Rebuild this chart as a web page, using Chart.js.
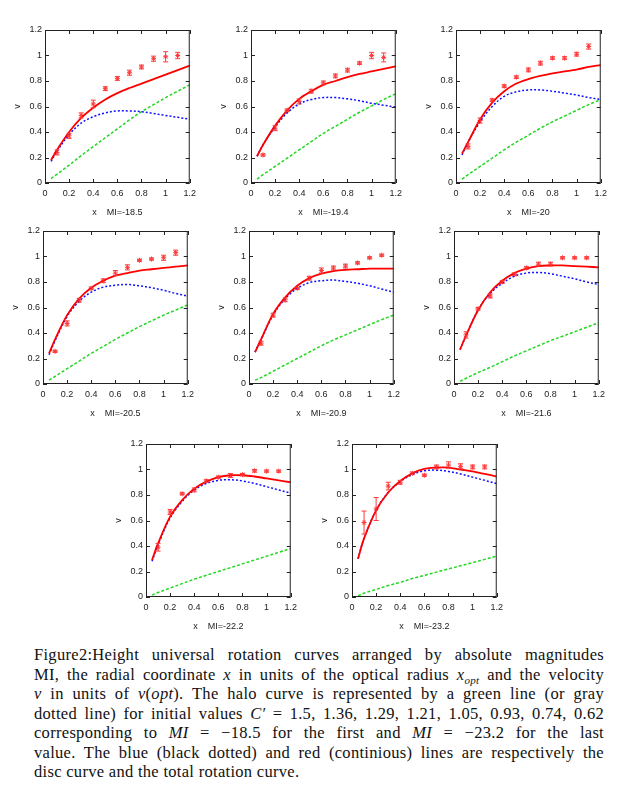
<!DOCTYPE html>
<html>
<head>
<meta charset="utf-8">
<style>
  body { margin: 0; background: #fff; width: 634px; height: 792px; position: relative; overflow: hidden; }
  canvas { position: absolute; }
  #cap { position: absolute; left: 34px; width: 570px; top: 645px; font: 16.5px "Liberation Serif", serif; letter-spacing: 0.3px; line-height: 19.5px; color: #111; }
  #cap div { text-align: justify; text-align-last: justify; }
  #cap div.last { text-align-last: left; }
  #cap sub { font-size: 11px; line-height: 0; }
</style>
</head>
<body>
<div id="panels"></div>
<div id="cap">
  <div>Figure2:Height universal rotation curves arranged by absolute magnitudes</div>
  <div>MI, the radial coordinate <i>x</i> in units of the optical radius <i>x<sub>opt</sub></i> and the velocity</div>
  <div><i>v</i> in units of <i>v</i>(<i>opt</i>). The halo curve is represented by a green line (or gray</div>
  <div>dotted line) for initial values <i>C′</i> = 1.5, 1.36, 1.29, 1.21, 1.05, 0.93, 0.74, 0.62</div>
  <div>corresponding to <i>MI</i> = −18.5 for the first and <i>MI</i> = −23.2 for the last</div>
  <div>value. The blue (black dotted) and red (continious) lines are respectively the</div>
  <div class="last">disc curve and the total rotation curve.</div>
</div>
<script src="https://cdn.jsdelivr.net/npm/chart.js@4.4.0/dist/chart.umd.min.js"></script>
<script>
// x grid of the model curves, and radii of the observed points
const xCurve = [0.05, 0.1, 0.2, 0.3, 0.4, 0.5, 0.6, 0.7, 0.8, 0.9, 1.0, 1.1, 1.2];
const xObs = [0.1, 0.2, 0.3, 0.4, 0.5, 0.6, 0.7, 0.8, 0.9, 1.0, 1.1];
const panelLabels = ['MI=-18.5', 'MI=-19.4', 'MI=-20', 'MI=-20.5', 'MI=-20.9', 'MI=-21.6', 'MI=-22.2', 'MI=-23.2'];
const yTicks = [0, 0.2, 0.4, 0.6, 0.8, 1, 1.2];

// MI=-18.5
const total1 = [0.18, 0.26, 0.40, 0.51, 0.59, 0.655, 0.705, 0.745, 0.78, 0.815, 0.85, 0.885, 0.92];
const disc1 = [0.17, 0.25, 0.38, 0.47, 0.52, 0.55, 0.565, 0.565, 0.56, 0.545, 0.53, 0.515, 0.50];
const halo1 = [0.035, 0.07, 0.14, 0.215, 0.285, 0.355, 0.425, 0.495, 0.56, 0.615, 0.67, 0.72, 0.77];
const obs1 = [0.24, 0.37, 0.53, 0.62, 0.74, 0.82, 0.865, 0.91, 0.975, 0.99, 1.0];
const err1 = [0.02, 0.02, 0.02, 0.03, 0.015, 0.015, 0.02, 0.015, 0.02, 0.04, 0.025];
// MI=-19.4
const total2 = [0.21, 0.30, 0.45, 0.57, 0.66, 0.72, 0.77, 0.80, 0.83, 0.855, 0.875, 0.895, 0.915];
const disc2 = [0.21, 0.30, 0.44, 0.55, 0.62, 0.655, 0.67, 0.67, 0.66, 0.645, 0.625, 0.61, 0.595];
const halo2 = [0.03, 0.065, 0.13, 0.195, 0.26, 0.325, 0.39, 0.445, 0.50, 0.555, 0.605, 0.655, 0.70];
const obs2 = [0.22, 0.43, 0.57, 0.64, 0.72, 0.785, 0.84, 0.885, 0.94, 1.0, 0.985];
const err2 = [0.008, 0.02, 0.01, 0.02, 0.015, 0.015, 0.015, 0.015, 0.01, 0.025, 0.035];
// MI=-20
const total3 = [0.23, 0.32, 0.50, 0.63, 0.72, 0.78, 0.815, 0.84, 0.86, 0.875, 0.89, 0.91, 0.925];
const disc3 = [0.22, 0.32, 0.48, 0.60, 0.68, 0.715, 0.73, 0.73, 0.72, 0.705, 0.69, 0.67, 0.655];
const halo3 = [0.03, 0.065, 0.13, 0.195, 0.26, 0.32, 0.375, 0.43, 0.48, 0.525, 0.57, 0.615, 0.655];
const obs3 = [0.287, 0.49, 0.65, 0.76, 0.83, 0.887, 0.94, 0.98, 0.98, 1.01, 1.07];
const err3 = [0.02, 0.02, 0.01, 0.01, 0.01, 0.015, 0.015, 0.01, 0.01, 0.015, 0.02];
// MI=-20.5
const total4 = [0.24, 0.35, 0.54, 0.67, 0.755, 0.81, 0.85, 0.87, 0.89, 0.90, 0.91, 0.92, 0.93];
const disc4 = [0.23, 0.34, 0.53, 0.65, 0.72, 0.76, 0.775, 0.78, 0.77, 0.755, 0.735, 0.71, 0.69];
const halo4 = [0.03, 0.06, 0.12, 0.18, 0.24, 0.295, 0.35, 0.40, 0.45, 0.495, 0.54, 0.58, 0.62];
const obs4 = [0.256, 0.475, 0.657, 0.75, 0.81, 0.87, 0.915, 0.97, 0.98, 0.99, 1.03];
const err4 = [0.008, 0.02, 0.015, 0.01, 0.015, 0.02, 0.02, 0.008, 0.008, 0.02, 0.02];
// MI=-20.9
const total5 = [0.25, 0.35, 0.55, 0.68, 0.77, 0.83, 0.865, 0.885, 0.895, 0.90, 0.905, 0.905, 0.905];
const disc5 = [0.25, 0.35, 0.54, 0.67, 0.75, 0.795, 0.81, 0.815, 0.805, 0.79, 0.77, 0.745, 0.72];
const halo5 = [0.03, 0.05, 0.10, 0.15, 0.20, 0.25, 0.30, 0.345, 0.385, 0.425, 0.465, 0.505, 0.54];
const obs5 = [0.32, 0.54, 0.66, 0.75, 0.83, 0.89, 0.91, 0.925, 0.95, 0.99, 1.01];
const err5 = [0.015, 0.015, 0.015, 0.008, 0.015, 0.02, 0.015, 0.015, 0.008, 0.008, 0.008];
// MI=-21.6
const total6 = [0.27, 0.38, 0.58, 0.72, 0.81, 0.87, 0.905, 0.925, 0.93, 0.93, 0.925, 0.92, 0.915];
const disc6 = [0.27, 0.38, 0.58, 0.71, 0.79, 0.845, 0.87, 0.875, 0.865, 0.845, 0.825, 0.80, 0.78];
const halo6 = [0.02, 0.045, 0.09, 0.13, 0.175, 0.22, 0.26, 0.30, 0.34, 0.375, 0.41, 0.445, 0.48];
const obs6 = [0.385, 0.59, 0.69, 0.80, 0.86, 0.91, 0.94, 0.94, 0.99, 0.99, 0.99];
const err6 = [0.025, 0.01, 0.015, 0.01, 0.01, 0.01, 0.015, 0.015, 0.008, 0.008, 0.008];
// MI=-22.2
const total7 = [0.29, 0.42, 0.63, 0.76, 0.85, 0.905, 0.94, 0.955, 0.955, 0.945, 0.93, 0.915, 0.90];
const disc7 = [0.28, 0.41, 0.62, 0.75, 0.84, 0.89, 0.915, 0.92, 0.91, 0.89, 0.865, 0.84, 0.815];
const halo7 = [0.015, 0.035, 0.07, 0.105, 0.14, 0.17, 0.20, 0.23, 0.26, 0.29, 0.32, 0.35, 0.38];
const obs7 = [0.39, 0.667, 0.81, 0.84, 0.91, 0.94, 0.953, 0.96, 0.99, 0.987, 0.987];
const err7 = [0.03, 0.02, 0.008, 0.015, 0.01, 0.008, 0.015, 0.008, 0.01, 0.008, 0.008];
// MI=-23.2
const total8 = [0.30, 0.46, 0.68, 0.82, 0.91, 0.97, 1.005, 1.015, 1.015, 1.0, 0.985, 0.965, 0.945];
const disc8 = [0.30, 0.46, 0.68, 0.82, 0.905, 0.96, 0.99, 0.995, 0.985, 0.965, 0.94, 0.915, 0.89];
const halo8 = [0.01, 0.03, 0.06, 0.09, 0.115, 0.145, 0.17, 0.195, 0.22, 0.245, 0.27, 0.295, 0.32];
const obs8 = [0.584, 0.69, 0.87, 0.90, 0.97, 0.955, 1.02, 1.035, 1.025, 1.02, 1.02];
const err8 = [0.09, 0.09, 0.03, 0.015, 0.01, 0.008, 0.015, 0.025, 0.02, 0.015, 0.015];

const totals = [total1, total2, total3, total4, total5, total6, total7, total8];
const discs = [disc1, disc2, disc3, disc4, disc5, disc6, disc7, disc8];
const halos = [halo1, halo2, halo3, halo4, halo5, halo6, halo7, halo8];
const obsList = [obs1, obs2, obs3, obs4, obs5, obs6, obs7, obs8];
const errList = [err1, err2, err3, err4, err5, err6, err7, err8];

// canvas top-left of each panel on the page
const spots = [[5, 20], [211, 20], [416, 20], [3, 221], [209, 221], [414, 221], [106, 434], [312, 434]];

Chart.defaults.font.family = '"Liberation Sans", Arial, sans-serif';
Chart.defaults.font.size = 9;
Chart.defaults.color = '#222';

// gnuplot look: frame, inward ticks on all four sides, error bars
const gnuFrame = {
  id: 'gnuFrame',
  afterDatasetsDraw(chart) {
    const { ctx, chartArea: a, scales: { x, y } } = chart;
    ctx.save();
    // error bars
    chart.data.datasets.forEach(ds => {
      if (!ds.errors) return;
      ctx.strokeStyle = ds.borderColor;
      ctx.lineWidth = 1;
      ds.data.forEach((p, i) => {
        const px = x.getPixelForValue(p.x);
        const y1 = y.getPixelForValue(p.y - ds.errors[i]);
        const y2 = y.getPixelForValue(p.y + ds.errors[i]);
        ctx.beginPath();
        ctx.moveTo(px, y1); ctx.lineTo(px, y2);
        ctx.moveTo(px - 2.5, y1); ctx.lineTo(px + 2.5, y1);
        ctx.moveTo(px - 2.5, y2); ctx.lineTo(px + 2.5, y2);
        ctx.stroke();
      });
    });
    ctx.strokeStyle = '#222';
    ctx.lineWidth = 1;
    ctx.strokeRect(a.left + 0.5, a.top + 0.5, a.right - a.left - 1, a.bottom - a.top - 1);
    ctx.beginPath();
    x.ticks.forEach(t => {
      const px = Math.round(x.getPixelForValue(t.value)) + 0.5;
      ctx.moveTo(px, a.bottom); ctx.lineTo(px, a.bottom - 4);
      ctx.moveTo(px, a.top); ctx.lineTo(px, a.top + 4);
    });
    y.ticks.forEach(t => {
      const py = Math.round(y.getPixelForValue(t.value)) + 0.5;
      ctx.moveTo(a.left, py); ctx.lineTo(a.left + 4, py);
      ctx.moveTo(a.right, py); ctx.lineTo(a.right - 4, py);
    });
    ctx.stroke();
    ctx.restore();
  }
};

function pts(xs, ys) {
  return xs.map((v, i) => ({ x: v, y: ys[i] }));
}

function makePanel(i) {
  const cv = document.createElement('canvas');
  cv.width = 196;
  cv.height = 200;
  cv.style.left = spots[i][0] + 'px';
  cv.style.top = spots[i][1] + 'px';
  document.getElementById('panels').appendChild(cv);

  new Chart(cv, {
    type: 'line',
    data: {
      datasets: [
        {
          label: 'total',
          data: pts(xCurve, totals[i]),
          borderColor: '#ff0000',
          borderWidth: 1.8,
          pointRadius: 0,
          tension: 0.35
        },
        {
          label: 'disc',
          data: pts(xCurve, discs[i]),
          borderColor: '#1010ff',
          borderWidth: 1.5,
          borderDash: [2, 2],
          pointRadius: 0,
          tension: 0.35
        },
        {
          label: 'halo',
          data: pts(xCurve, halos[i]),
          borderColor: '#20d820',
          borderWidth: 1.5,
          borderDash: [3, 2],
          pointRadius: 0,
          tension: 0.35
        },
        {
          label: 'data',
          data: pts(xObs, obsList[i]),
          errors: errList[i],
          showLine: false,
          borderColor: '#ff3a3a',
          backgroundColor: '#ff3a3a',
          pointStyle: 'star',
          pointRadius: 2.5,
          borderWidth: 1
        }
      ]
    },
    options: {
      responsive: false,
      animation: false,
      devicePixelRatio: 1,
      layout: { padding: { left: 0, top: 10, right: 4, bottom: 0 } },
      plugins: { legend: { display: false }, tooltip: { enabled: false } },
      scales: {
        x: {
          type: 'linear',
          min: 0,
          max: 1.2,
          grid: { display: false, drawTicks: false },
          border: { display: false },
          ticks: { stepSize: 0.2, padding: 5, maxRotation: 0, callback: v => String(Math.round(v * 10) / 10) },
          title: { display: true, text: 'x    ' + panelLabels[i], padding: { top: 0, bottom: 2 } },
          afterFit(s) { s.height = 37; }
        },
        y: {
          min: 0,
          max: 1.2,
          grid: { display: false, drawTicks: false },
          border: { display: false },
          afterBuildTicks(s) { s.ticks = yTicks.map(v => ({ value: v })); },
          ticks: { padding: 3, callback: v => String(Math.round(v * 10) / 10) },
          title: { display: true, text: 'v', padding: { top: 7, bottom: 0 } },
          afterFit(s) { s.width = 40; }
        }
      }
    },
    plugins: [gnuFrame]
  });
}

for (let i = 0; i < 8; i++) makePanel(i);
</script>
</body>
</html>
